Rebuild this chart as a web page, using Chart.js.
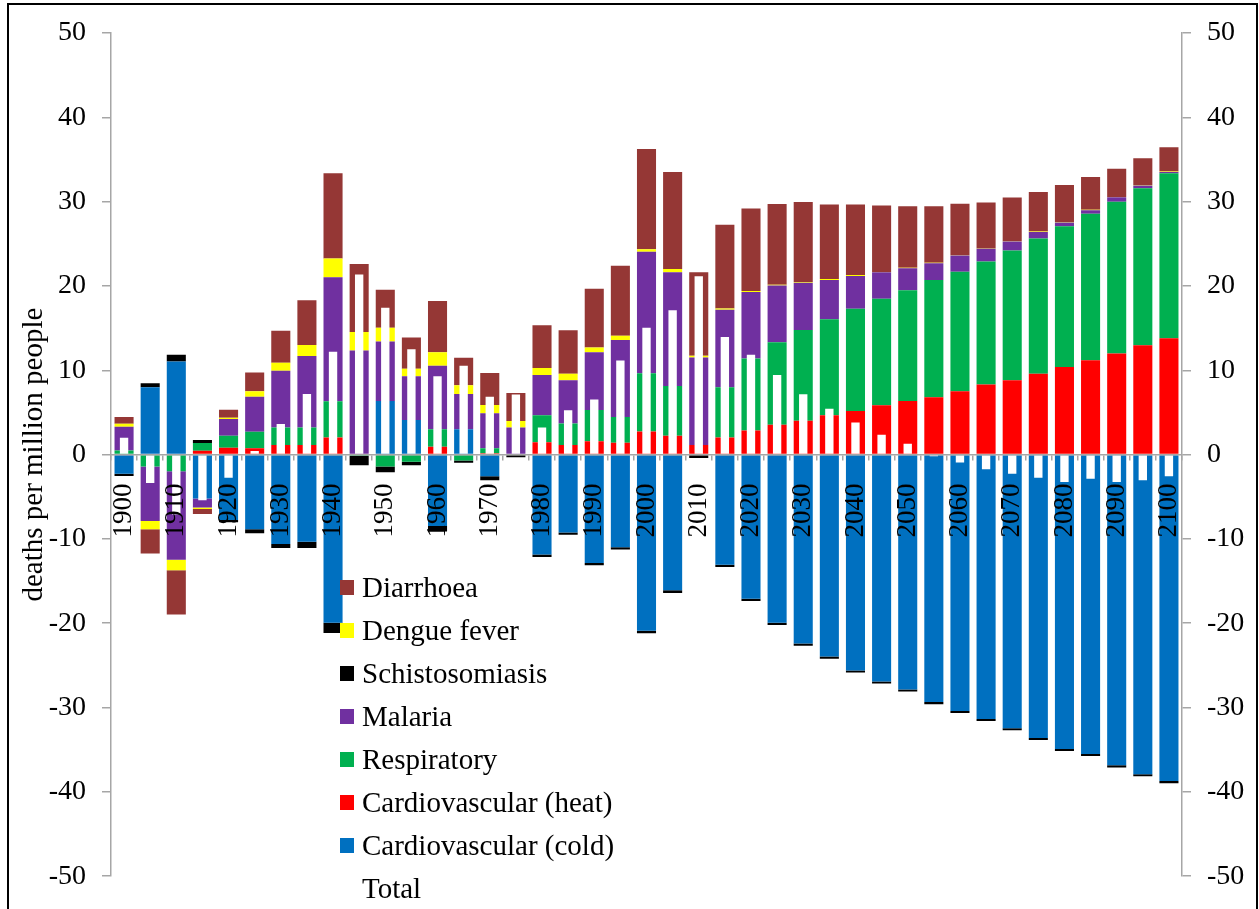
<!DOCTYPE html>
<html>
<head>
<meta charset="utf-8">
<title>deaths per million people</title>
<script src="https://cdn.jsdelivr.net/npm/chart.js@4.4.0/dist/chart.umd.min.js"></script>
<style>
    body { margin: 0; background: #fff; }
    #frame { position: absolute; left: 7px; top: 3px; width: 1247px; height: 1000px; border: 2px solid #000; pointer-events: none; }
    #deaths-chart { position: absolute; left: 0; top: 0; }
</style>
</head>
<body>
<canvas id="deaths-chart" width="1259" height="909"></canvas>
<div id="frame"></div>
<script>
// years on the x axis, one bar every 5 years
const years = [1900, 1905, 1910, 1915, 1920, 1925, 1930, 1935, 1940, 1945,
    1950, 1955, 1960, 1965, 1970, 1975, 1980, 1985, 1990, 1995,
    2000, 2005, 2010, 2015, 2020, 2025, 2030, 2035, 2040, 2045,
    2050, 2055, 2060, 2065, 2070, 2075, 2080, 2085, 2090, 2095, 2100];

const yTicks = [-50, -40, -30, -20, -10, 0, 10, 20, 30, 40, 50];

// deaths per million people, by cause
const cardioCold = [-2.27, 8.0, 11.05, -5.2, -7.75, -8.85, -10.6, -10.35, -19.95, 0,
    6.35, 4.11, -8.46, 3.0, -2.58, 0, -11.85, -9.25, -12.85, -11.0,
    -20.9, -16.1, 0, -13.05, -17.1, -19.95, -22.4, -23.95, -25.6, -26.9,
    -27.85, -29.35, -30.4, -31.35, -32.45, -33.6, -34.9, -35.5, -36.85, -37.9, -38.7];

const cardioHeat = [0, 0, 0, 0.45, 0.8, 0.75, 1.13, 1.13, 2.03, 0,
    0, 0, 0.94, 0, 0.15, 0, 1.45, 1.14, 1.57, 1.41,
    2.74, 2.23, 1.14, 2.04, 2.86, 3.53, 4.0, 4.66, 5.17, 5.84,
    6.35, 6.8, 7.5, 8.3, 8.81, 9.6, 10.38, 11.2, 11.99, 12.97, 13.79];

const respiratory = [0.5, -1.41, -1.96, 0.92, 1.45, 1.95, 2.07, 2.07, 4.3, -0.15,
    -1.4, -0.85, 2.08, -0.7, 0.6, 0, 3.21, 2.54, 3.72, 3.06,
    6.9, 5.92, 0, 5.95, 8.54, 9.79, 10.77, 11.4, 12.14, 12.65,
    13.15, 13.9, 14.2, 14.6, 15.39, 16.02, 16.69, 17.35, 18.01, 18.63, 19.58];

const malaria = [2.8, -6.45, -10.5, -1.06, 1.96, 4.15, 6.75, 8.5, 14.7, 12.35,
    7.05, 5.17, 7.52, 4.2, 4.15, 3.21, 4.78, 5.13, 6.85, 9.13,
    14.41, 13.47, 10.38, 9.2, 7.87, 6.73, 5.6, 4.66, 3.88, 3.13,
    2.6, 2.0, 1.9, 1.5, 1.06, 0.78, 0.47, 0.43, 0.51, 0.32, 0.16];

const schisto = [-0.27, 0.45, 0.8, 0.35, -0.28, -0.47, -0.47, -0.74, -1.2, -1.1,
    -0.7, -0.4, -0.66, -0.27, -0.47, -0.3, -0.3, -0.25, -0.27, -0.25,
    -0.3, -0.3, -0.4, -0.27, -0.25, -0.26, -0.28, -0.26, -0.25, -0.25,
    -0.25, -0.25, -0.25, -0.25, -0.25, -0.25, -0.25, -0.25, -0.25, -0.25, -0.27];

const dengue = [0.35, -0.98, -1.25, -0.2, 0.15, 0.67, 0.95, 1.3, 2.24, 2.2,
    1.64, 0.9, 1.6, 1.02, 0.98, 0.78, 0.82, 0.78, 0.55, 0.5,
    0.31, 0.4, 0.2, 0.15, 0.12, 0.08, 0.1, 0.12, 0.12, 0.05,
    0.05, 0.05, 0.05, 0.05, 0.05, 0.05, 0.05, 0.05, 0.05, 0.05, 0.05];

const diarrhoea = [0.8, -2.9, -5.25, -0.59, 0.95, 2.23, 3.8, 5.3, 10.1, 8.05,
    4.5, 3.72, 6.07, 3.28, 3.8, 3.33, 5.09, 5.17, 6.97, 8.3,
    11.87, 11.5, 9.91, 9.91, 9.79, 9.6, 9.48, 8.81, 8.35, 7.88,
    7.3, 6.7, 6.1, 5.45, 5.17, 4.7, 4.38, 3.88, 3.33, 3.18, 2.86];

const total = [2.0, -3.37, -7.1, -5.4, -2.74, 0.43, 3.64, 7.2, 12.2, 21.35,
    17.43, 12.5, 9.28, 10.54, 6.85, 7.13, 3.21, 5.25, 6.54, 11.16,
    15.04, 17.12, 21.15, 13.94, 11.83, 9.44, 7.17, 5.44, 3.8, 2.35,
    1.3, -0.2, -0.95, -1.75, -2.27, -2.74, -3.25, -2.86, -3.25, -3.05, -2.58];

const FONT = 'Liberation Serif, Times New Roman, serif';
const AXIS_GREY = '#a6a6a6';

function causeSet(label, data, color) {
    return {
        label: label,
        data: data,
        backgroundColor: color,
        borderWidth: 0,
        stack: 'causes',
        categoryPercentage: 1,
        barPercentage: 0.73
    };
}

// legend sits inside the plot, drawn on top of the bars
const legendInside = {
    id: 'legendInside',
    afterDraw(chart) {
        const ctx = chart.ctx;
        const area = chart.chartArea;
        const items = chart.data.datasets.slice().reverse();
        const order = items.filter(d => d.label !== 'Total');
        order.push(chart.data.datasets.find(d => d.label === 'Total'));

        ctx.save();
        ctx.font = '29px ' + FONT;
        ctx.textBaseline = 'middle';
        ctx.textAlign = 'left';
        order.forEach((ds, i) => {
            const y = area.top + 555 + i * 43;
            ctx.fillStyle = ds.backgroundColor;
            ctx.fillRect(area.left + 229, y - 8, 14, 15);
            ctx.fillStyle = '#000';
            ctx.fillText(ds.label, area.left + 251, y + 1);
        });
        ctx.restore();
    }
};

const data = {
    labels: years,
    datasets: [
        causeSet('Cardiovascular (cold)', cardioCold, '#0070C0'),
        causeSet('Cardiovascular (heat)', cardioHeat, '#FF0000'),
        causeSet('Respiratory', respiratory, '#00B050'),
        causeSet('Malaria', malaria, '#7030A0'),
        causeSet('Schistosomiasis', schisto, '#000000'),
        causeSet('Dengue fever', dengue, '#FFFF00'),
        causeSet('Diarrhoea', diarrhoea, '#953735'),
        {
            label: 'Total',
            data: total,
            backgroundColor: '#FFFFFF',
            borderWidth: 0,
            stack: 'total',
            grouped: false,
            order: -1,
            categoryPercentage: 1,
            barPercentage: 0.32
        }
    ]
};

const yAxis = (side, width) => ({
    position: side,
    stacked: side === 'left',
    min: yTicks[0],
    max: yTicks[yTicks.length - 1],
    afterFit: scale => { scale.width = width; },
    afterBuildTicks: scale => { scale.ticks = yTicks.map(v => ({value: v})); },
    grid: { drawOnChartArea: false, drawTicks: true, tickLength: 9, color: AXIS_GREY, lineWidth: 1.5 },
    border: { display: true, color: AXIS_GREY, width: 1.5 },
    ticks: { color: '#000', padding: 16, font: { family: FONT, size: 28 } }
});

const config = {
    type: 'bar',
    data: data,
    plugins: [legendInside],
    options: {
        responsive: false,
        animation: false,
        devicePixelRatio: 1,
        layout: { padding: { top: 33, bottom: 25, left: 0, right: 0 } },
        plugins: {
            legend: { display: false },
            tooltip: { enabled: false }
        },
        scales: {
            // x axis crosses at zero and is drawn over the bars
            x: {
                stacked: true,
                position: { y: 0 },
                grid: { z: 1, drawOnChartArea: false, drawTicks: true, tickLength: 5, color: AXIS_GREY, lineWidth: 1.5, offset: true },
                border: { z: 1, display: true, color: AXIS_GREY, width: 1.5 },
                ticks: {
                    z: 1,
                    autoSkip: false,
                    minRotation: 90,
                    maxRotation: 90,
                    padding: 24,
                    color: '#000',
                    font: { family: FONT, size: 27 },
                    callback: (value, index) => index % 2 === 0 ? years[index] : ''
                }
            },
            y: Object.assign(yAxis('left', 111), {
                title: {
                    display: true,
                    text: 'deaths per million people',
                    color: '#000',
                    padding: { top: 17, bottom: 0 },
                    font: { family: FONT, size: 29 }
                }
            }),
            y2: yAxis('right', 77)
        }
    }
};

const myChart = new Chart(document.getElementById('deaths-chart'), config);
</script>
</body>
</html>
